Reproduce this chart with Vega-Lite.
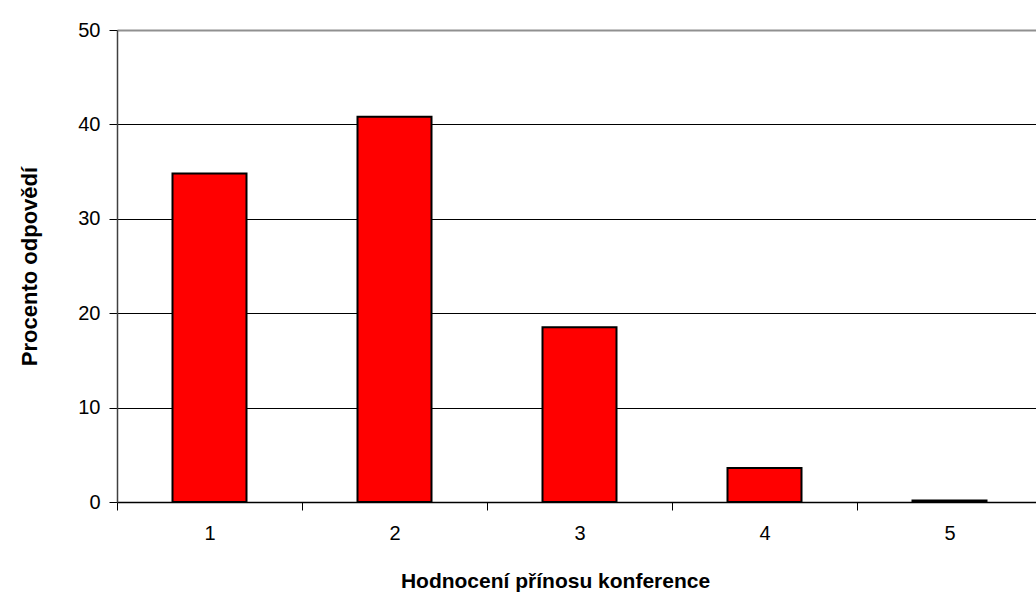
{
  "$schema": "https://vega.github.io/schema/vega-lite/v6.json",
  "autosize": "none",
  "width": 919,
  "height": 472,
  "padding": {"left": 117, "top": 30, "right": 0, "bottom": 106},
  "background": "white",
  "config": {"view": {"stroke": null}, "font": "Liberation Sans"},
  "data": {"values": [
    {"hodnoceni": "1", "procento": 34.8},
    {"hodnoceni": "2", "procento": 40.8},
    {"hodnoceni": "3", "procento": 18.5},
    {"hodnoceni": "4", "procento": 3.6},
    {"hodnoceni": "5", "procento": 0.15}
  ]},
  "mark": {"type": "bar", "fill": "#ff0000", "stroke": "black", "strokeWidth": 2, "width": {"band": 0.4}},
  "encoding": {
    "x": {
      "field": "hodnoceni", "type": "ordinal",
      "scale": {"range": [0, 925], "paddingInner": 0, "paddingOuter": 0},
      "axis": {
        "title": "Hodnocení přínosu konference",
        "titleFont": "Liberation Sans", "titleFontSize": 21, "titleFontWeight": "bold", "titleColor": "black",
        "titlePadding": 27, "titleX": 438,
        "labelAngle": 0, "labelFontSize": 20, "labelColor": "black", "labelPadding": 13,
        "tickBand": "extent", "tickSize": 8, "tickColor": "black", "tickWidth": 1,
        "domainColor": "black", "domainWidth": 1.5
      }
    },
    "y": {
      "field": "procento", "type": "quantitative",
      "scale": {"domain": [0, 50], "nice": false},
      "axis": {
        "title": "Procento odpovědí",
        "titleFont": "Liberation Sans", "titleFontSize": 22, "titleFontWeight": "bold", "titleColor": "black",
        "titlePadding": 36,
        "values": [0, 10, 20, 30, 40, 50],
        "labelFontSize": 20, "labelColor": "black", "labelPadding": 9,
        "tickSize": 8, "tickColor": "black",
        "domainColor": "#404040", "domainWidth": 1.5,
        "grid": true,
        "gridColor": {"condition": {"test": "datum.value == 50", "value": "#909090"}, "value": "black"},
        "gridWidth": {"condition": {"test": "datum.value == 50", "value": 2}, "value": 1}
      }
    }
  }
}
